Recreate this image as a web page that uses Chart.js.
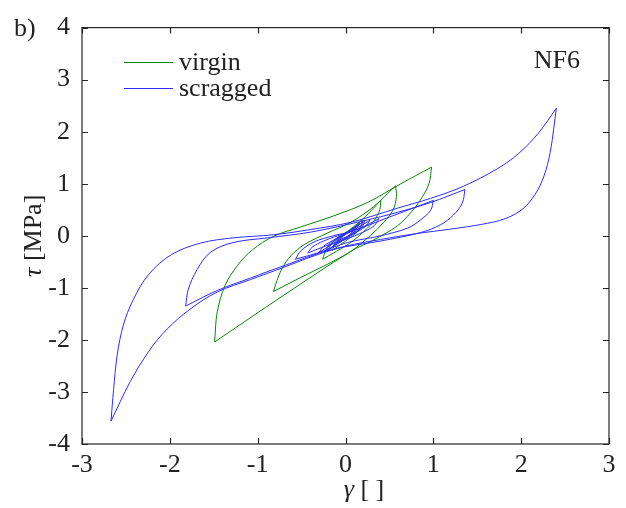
<!DOCTYPE html>
<html>
<head>
<meta charset="utf-8">
<script src="https://cdn.jsdelivr.net/npm/chart.js@4.4.1/dist/chart.umd.min.js"></script>
<style>
  html, body { margin: 0; padding: 0; background: #fff; }
  .probe { font-family: 'Liberation Serif'; position: absolute; left: -999px; top: 0; }
</style>
</head>
<body>
<canvas id="chartLoops" width="626" height="508"></canvas>
<span class="probe">γτ 0123 <i>γτ</i></span>
<script>
// tick values of both axes
const xTicks = [-3, -2, -1, 0, 1, 2, 3];
const yTicks = [-4, -3, -2, -1, 0, 1, 2, 3, 4];

// virgin sample: loops of growing amplitude, each split into rising / falling branch [gamma, tau]
const virginUp5 = [[-0.08, -0.13], [-0.04, -0.03], [0.02, 0.05], [0.10, 0.16]];
const virginDown5 = [[0.10, 0.16], [0.07, 0.06], [0.01, -0.04], [-0.08, -0.13]];
const virginUp4 = [[-0.15, -0.28], [-0.11, -0.13], [-0.02, 0.02], [0.09, 0.15], [0.19, 0.31]];
const virginDown4 = [[0.19, 0.31], [0.18, 0.18], [0.12, 0.05], [0.00, -0.10], [-0.15, -0.28]];
const virginUp3 = [[-0.26, -0.45], [-0.22, -0.27], [-0.12, -0.08], [0.05, 0.12], [0.22, 0.36], [0.40, 0.68]];
const virginDown3 = [[0.40, 0.68], [0.39, 0.50], [0.33, 0.30], [0.22, 0.10], [0.05, -0.14], [-0.26, -0.45]];
const virginUp2 = [[-0.82, -1.07], [-0.78, -0.86], [-0.72, -0.62], [-0.62, -0.38], [-0.47, -0.17],
  [-0.21, 0.05], [0.06, 0.26], [0.32, 0.56], [0.57, 0.96]];
const virginDown2 = [[0.57, 0.96], [0.58, 0.76], [0.54, 0.49], [0.43, 0.25], [0.28, 0.00],
  [0.06, -0.30], [-0.21, -0.55], [-0.51, -0.80], [-0.82, -1.07]];
const virginUp1 = [[-1.49, -2.04], [-1.46, -1.46], [-1.37, -0.95], [-1.23, -0.57], [-1.06, -0.27],
  [-0.82, -0.01], [-0.51, 0.17], [-0.14, 0.38], [0.25, 0.64], [0.63, 1.00], [0.98, 1.32]];
const virginDown1 = [[0.98, 1.32], [0.95, 1.00], [0.85, 0.68], [0.74, 0.44], [0.59, 0.19],
  [0.32, -0.08], [0.06, -0.30], [-0.71, -1.15], [-1.49, -2.04]];

// scragged sample
const scragUp9 = [[-0.22, -0.30], [-0.19, -0.17], [-0.08, -0.02], [0.08, 0.13], [0.22, 0.30]];
const scragDown9 = [[0.22, 0.30], [0.19, 0.17], [0.08, 0.02], [-0.08, -0.14], [-0.22, -0.30]];
const scragUp8 = [[-0.10, -0.14], [-0.06, -0.05], [0.02, 0.06], [0.12, 0.18]];
const scragDown8 = [[0.12, 0.18], [0.08, 0.07], [0.00, -0.04], [-0.10, -0.14]];
const scragUp7 = [[-0.14, -0.20], [-0.10, -0.09], [0.00, 0.04], [0.16, 0.24]];
const scragDown7 = [[0.16, 0.24], [0.11, 0.10], [0.02, -0.03], [-0.14, -0.20]];
const scragUp6 = [[-0.20, -0.27], [-0.15, -0.14], [-0.04, 0.00], [0.08, 0.12], [0.20, 0.27]];
const scragDown6 = [[0.20, 0.27], [0.15, 0.13], [0.04, 0.00], [-0.08, -0.13], [-0.20, -0.27]];
const scragUp5 = [[-0.30, -0.32], [-0.25, -0.20], [-0.12, -0.07], [0.05, 0.07], [0.28, 0.30]];
const scragDown5 = [[0.28, 0.30], [0.22, 0.17], [0.10, 0.05], [-0.08, -0.09], [-0.30, -0.32]];
const scragUp4 = [[-0.43, -0.33], [-0.38, -0.22], [-0.25, -0.10], [0.00, 0.05], [0.20, 0.17], [0.38, 0.33]];
const scragDown4 = [[0.38, 0.33], [0.33, 0.20], [0.20, 0.07], [0.00, -0.07], [-0.20, -0.18], [-0.43, -0.33]];
const scragUp3 = [[-0.57, -0.45], [-0.51, -0.29], [-0.36, -0.12], [-0.14, 0.00], [0.06, 0.08],
  [0.50, 0.36], [1.00, 0.68]];
const scragDown3 = [[1.00, 0.68], [0.97, 0.49], [0.85, 0.30], [0.71, 0.15], [0.40, 0.00],
  [0.02, -0.13], [-0.32, -0.33], [-0.57, -0.45]];
const scragUp2 = [[-1.82, -1.35], [-1.79, -1.03], [-1.69, -0.65], [-1.54, -0.32], [-1.28, -0.13],
  [-0.89, -0.04], [-0.40, 0.07], [0.21, 0.29], [0.59, 0.45], [0.97, 0.64], [1.36, 0.89]];
const scragDown2 = [[1.36, 0.89], [1.33, 0.63], [1.23, 0.40], [1.08, 0.21], [0.85, 0.06],
  [0.40, -0.10], [-0.17, -0.27], [-0.71, -0.58], [-1.08, -0.81], [-1.46, -1.05], [-1.82, -1.35]];
const scragUp1 = [[-2.67, -3.56], [-2.64, -2.95], [-2.60, -2.30], [-2.53, -1.72], [-2.42, -1.24],
  [-2.24, -0.74], [-1.98, -0.36], [-1.65, -0.14], [-1.28, -0.04], [-0.82, 0.02], [-0.40, 0.12],
  [0.06, 0.26], [0.59, 0.53], [0.97, 0.72], [1.34, 0.95], [1.73, 1.29], [1.97, 1.58], [2.20, 1.98], [2.40, 2.45]];
const scragDown1 = [[2.40, 2.45], [2.37, 2.05], [2.33, 1.60], [2.26, 1.15], [2.16, 0.80], [2.02, 0.52],
  [1.82, 0.33], [1.55, 0.22], [1.20, 0.13], [0.80, 0.04], [0.40, -0.07], [0.00, -0.20], [-0.35, -0.38],
  [-0.71, -0.61], [-1.08, -0.84], [-1.46, -1.08], [-1.77, -1.41], [-2.03, -1.79], [-2.24, -2.22],
  [-2.45, -2.80], [-2.67, -3.56]];

const virginBranches = [virginUp5, virginDown5, virginUp4, virginDown4, virginUp3, virginDown3,
  virginUp2, virginDown2, virginUp1, virginDown1];
const scragBranches = [scragUp9, scragDown9, scragUp8, scragDown8, scragUp7, scragDown7, scragUp6, scragDown6,
  scragUp5, scragDown5, scragUp4, scragDown4, scragUp3, scragDown3, scragUp2, scragDown2, scragUp1, scragDown1];

const GREEN = '#0a850a';
const BLUE = 'rgb(45,45,255)';
const FONT = "'Liberation Serif', 'Times New Roman', Times, serif";
const INK = '#222';

function branchSet(pts, label, color) {
  return {
    label: label,
    data: pts.map(p => ({ x: p[0], y: p[1] })),
    borderColor: color,
    backgroundColor: color,
    borderWidth: 1,
    pointRadius: 0,
    tension: 0.35,
    fill: false
  };
}

// blue goes first so it sits on top of the green loops
const datasets = []
  .concat(scragBranches.map(b => branchSet(b, 'scragged', BLUE)))
  .concat(virginBranches.map(b => branchSet(b, 'virgin', GREEN)));

// frame, inward ticks, titles, legend and annotations
const decorPlugin = {
  id: 'decor',
  afterDraw(chart) {
    const ctx = chart.ctx;
    const a = chart.chartArea;
    const sx = chart.scales.x, sy = chart.scales.y;
    const tl = 6;
    ctx.save();
    ctx.strokeStyle = '#262626';
    ctx.lineWidth = 1.2;
    ctx.strokeRect(a.left, a.top, a.right - a.left, a.bottom - a.top);
    ctx.beginPath();
    xTicks.forEach(v => {
      const px = Math.round(sx.getPixelForValue(v)) + 0.5;
      ctx.moveTo(px, a.bottom); ctx.lineTo(px, a.bottom - tl);
      ctx.moveTo(px, a.top); ctx.lineTo(px, a.top + tl);
    });
    yTicks.forEach(v => {
      const py = Math.round(sy.getPixelForValue(v)) + 0.5;
      ctx.moveTo(a.left, py); ctx.lineTo(a.left + tl, py);
      ctx.moveTo(a.right, py); ctx.lineTo(a.right - tl, py);
    });
    ctx.stroke();

    ctx.fillStyle = INK;
    ctx.textBaseline = 'alphabetic';
    const normal = '26px ' + FONT;
    const italic = 'italic 26px ' + FONT;

    // x title: γ [ ]
    ctx.font = italic;
    const wg = ctx.measureText('γ').width;
    ctx.font = normal;
    const wb = ctx.measureText(' [ ]').width;
    let x0 = 364 - (wg + wb) / 2;
    ctx.textAlign = 'left';
    ctx.font = italic; ctx.fillText('γ', x0, 497);
    ctx.font = normal; ctx.fillText(' [ ]', x0 + wg, 497);

    // y title: τ [MPa]
    ctx.save();
    ctx.translate(41, (a.top + a.bottom) / 2);
    ctx.rotate(-Math.PI / 2);
    ctx.font = italic;
    const wt = ctx.measureText('τ').width;
    ctx.font = normal;
    const wm = ctx.measureText(' [MPa]').width;
    x0 = -(wt + wm) / 2;
    ctx.font = italic; ctx.fillText('τ', x0, 0);
    ctx.font = normal; ctx.fillText(' [MPa]', x0 + wt, 0);
    ctx.restore();

    // panel letter and specimen name
    ctx.font = normal;
    ctx.fillText('b)', 14, 36);
    ctx.textAlign = 'right';
    ctx.fillText('NF6', 580, 68);

    // legend
    const rows = [['virgin', GREEN, 62], ['scragged', BLUE, 88]];
    ctx.textAlign = 'left';
    rows.forEach(r => {
      ctx.strokeStyle = r[1];
      ctx.lineWidth = 1;
      ctx.beginPath();
      ctx.moveTo(124, r[2] + 0.5); ctx.lineTo(173, r[2] + 0.5);
      ctx.stroke();
      ctx.fillStyle = INK;
      ctx.fillText(r[0], 179, r[2] + 8);
    });
    ctx.restore();
  }
};

function drawChart() {
  new Chart(document.getElementById('chartLoops'), {
    type: 'line',
    data: { datasets: datasets },
    options: {
      responsive: false,
      animation: false,
      devicePixelRatio: 1,
      layout: { padding: { top: 22, right: 17, left: 0, bottom: 0 } },
      plugins: {
        legend: { display: false },
        tooltip: { enabled: false }
      },
      scales: {
        x: {
          type: 'linear',
          min: -3, max: 3,
          afterFit: s => { s.height = 64; },
          afterBuildTicks: s => { s.ticks = xTicks.map(v => ({ value: v })); },
          ticks: { padding: 6, maxRotation: 0, color: INK, font: { family: FONT, size: 26 } },
          grid: { display: false, drawTicks: false },
          border: { display: false }
        },
        y: {
          type: 'linear',
          min: -4, max: 4,
          afterFit: s => { s.width = 82; },
          afterBuildTicks: s => { s.ticks = yTicks.map(v => ({ value: v })); },
          ticks: { padding: 12, color: INK, font: { family: FONT, size: 26 } },
          grid: { display: false, drawTicks: false },
          border: { display: false }
        }
      }
    },
    plugins: [decorPlugin]
  });
}

Promise.all([
  document.fonts.load("26px 'Liberation Serif'"),
  document.fonts.load("italic 26px 'Liberation Serif'")
]).then(drawChart, drawChart);
</script>
</body>
</html>
